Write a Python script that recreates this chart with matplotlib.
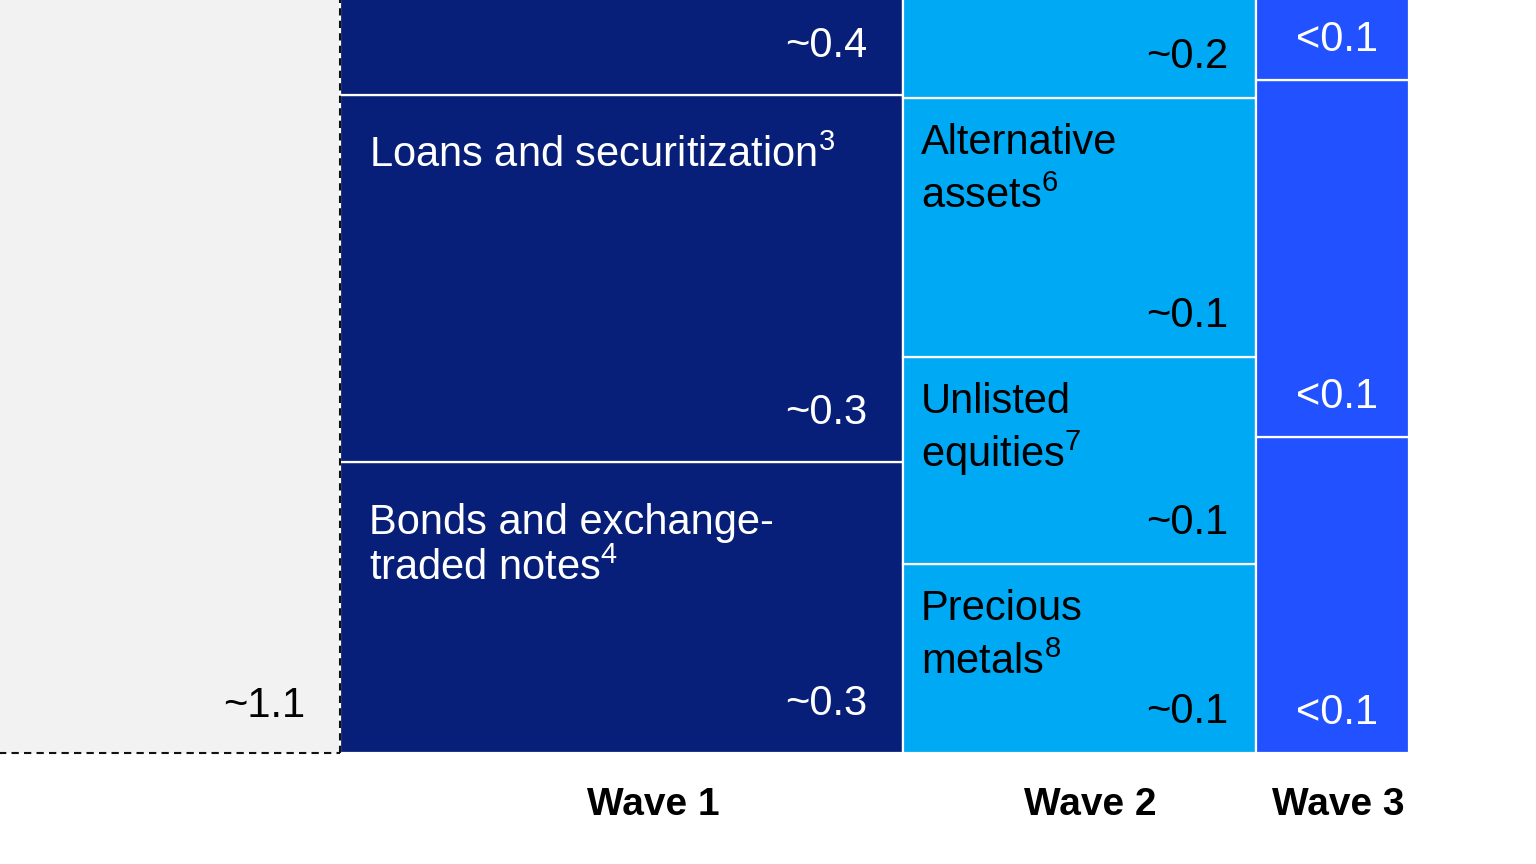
import matplotlib
matplotlib.use("Agg")
import matplotlib.pyplot as plt

plt.rcParams['font.family'] = ['Liberation Sans', 'DejaVu Sans']
plt.rcParams['mathtext.fontset'] = 'custom'
plt.rcParams['mathtext.rm'] = 'Liberation Sans'
plt.rcParams['mathtext.it'] = 'Liberation Sans'
plt.rcParams['mathtext.bf'] = 'Liberation Sans:bold'

# ---------------- data ----------------
categories = ["Wave 1", "Wave 2", "Wave 3"]
col_widths = [5.63, 3.53, 1.53]

baseline_left = -2.0
baseline_width = 5.40
baseline_height = 8.5
baseline_label = "~1.1"

wave1_heights = [2.91, 3.67, 1.60]
wave1_names = [["Bonds and exchange-", "traded notes$^{4}$"],
               ["Loans and securitization$^{3}$"], []]
wave1_values = ["~0.3", "~0.3", "~0.4"]

wave2_heights = [1.89, 2.07, 2.59, 1.60]
wave2_names = [["Precious", "metals$^{8}$"], ["Unlisted", "equities$^{7}$"],
               ["Alternative", "assets$^{6}$"], []]
wave2_values = ["~0.1", "~0.1", "~0.1", "~0.2"]

wave3_heights = [3.16, 3.57, 1.60]
wave3_names = [[], [], []]
wave3_values = ["<0.1", "<0.1", "<0.1"]

heights = [wave1_heights, wave2_heights, wave3_heights]
names = [wave1_names, wave2_names, wave3_names]
values = [wave1_values, wave2_values, wave3_values]

# ---------------- style ----------------
colors = ["#071F78", "#00A9F4", "#2251FF"]
text_colors = ["white", "black", "white"]
name_line_step = [0.46, 0.54, 0.54]
name_pad_x = [0.29, 0.18, 0.18]
name_pad_top = [0.72, 0.56, 0.56]
value_pad_right = [0.36, 0.28, 0.0]
value_pad_bottom = [0.38, 0.30, 0.29]
value_align = ["right", "right", "center"]
label_offset = [0.32, 0.11, 0.06]
FS = 30

fig = plt.figure(figsize=(15.36, 8.64), dpi=100)
ax = fig.add_axes([0, 0, 1, 1])
ax.set_xlim(0, 15.36)
ax.set_ylim(-1.11, 7.53)
ax.axis("off")

# baseline (grey) column
ax.bar(baseline_left, baseline_height, width=baseline_width, bottom=0,
       align="edge", color="#F2F2F2", linewidth=0, zorder=1)
xr = baseline_left + baseline_width
ax.plot([xr, xr], [0, baseline_height], color="#111111", lw=1.5,
        dashes=(3.5, 2.5), zorder=3)
ax.plot([baseline_left, xr], [0, 0], color="#111111", lw=1.5,
        dashes=(3.5, 2.5), zorder=3)
ax.text(xr - 0.35, 0.36, baseline_label, ha="right", va="baseline",
        fontsize=FS, color="black", zorder=4)

# wave columns
x0 = xr
for i, cat in enumerate(categories):
    w = col_widths[i]
    bottom = 0.0
    for j, h in enumerate(heights[i]):
        ax.bar(x0, h, width=w, bottom=bottom, align="edge", color=colors[i],
               edgecolor="white", linewidth=1.6, zorder=2)
        top = bottom + h
        for k, line in enumerate(names[i][j]):
            ax.text(x0 + name_pad_x[i],
                    top - name_pad_top[i] - k * name_line_step[i], line,
                    ha="left", va="baseline", fontsize=FS,
                    color=text_colors[i], zorder=4)
        if values[i][j]:
            if value_align[i] == "center":
                vx = x0 + w / 2 + 0.04
            else:
                vx = x0 + w - value_pad_right[i]
            ax.text(vx, bottom + value_pad_bottom[i], values[i][j],
                    ha=value_align[i], va="baseline", fontsize=FS,
                    color=text_colors[i], zorder=4)
        bottom = top
    ax.text(x0 + w / 2 + label_offset[i], -0.52, cat, ha="center", va="center",
            fontsize=28, fontweight="bold", color="black")
    x0 += w

fig.savefig("out.png", dpi=100)
